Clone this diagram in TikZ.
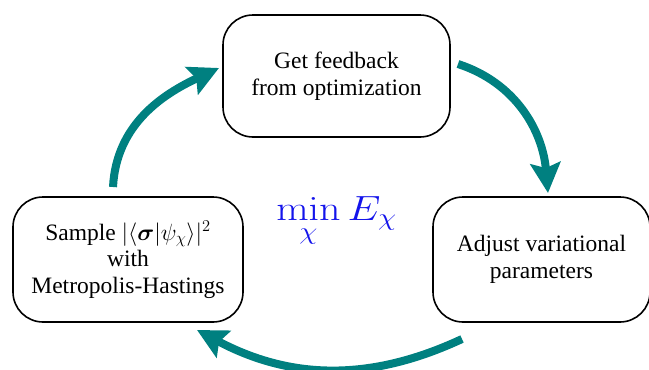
\RequirePackage{fix-cm}
\documentclass[tikz,border=0pt]{standalone}
\usepackage{amsmath}
\usepackage{bm}
\usepackage[no-math]{fontspec}
\setmainfont{Liberation Serif}
\usetikzlibrary{arrows.meta}
\definecolor{loopteal}{RGB}{0,128,128}
\definecolor{formulablue}{RGB}{20,20,235}
\tikzset{
  stagebox/.style={draw=black, line width=1.6pt, rounded corners=30pt, align=center,
    inner sep=0pt, font=\fontsize{23.5}{26.5}\selectfont},
  looparrow/.style={draw=loopteal, line width=8pt,
    -{Stealth[length=30pt,width=30pt,inset=5pt]}}
}
\begin{document}
\begin{tikzpicture}[x=1pt,y=-1pt]
  \useasboundingbox (0,0) rectangle (649,370);
  % the three stages of the loop
  \node[stagebox, minimum width=227pt, minimum height=122pt] (feedback) at (336.5,76)
    {Get feedback\\from optimization};
  \node[stagebox, minimum width=230pt, minimum height=125pt] (sample) at (128,259.5)
    {Sample $|\langle\bm{\sigma}|\psi_\chi\rangle|^2$\\with\\Metropolis-Hastings};
  \node[stagebox, minimum width=217pt, minimum height=125pt] (adjust) at (541.5,259.5)
    {Adjust variational\\parameters};
  % objective in the middle
  \node[text=formulablue, font=\fontsize{35}{42}\selectfont, anchor=base, inner sep=0pt]
    (objective) at (336.5,220)
    {\scalebox{1.2}[1]{$\displaystyle\min_{\lower5pt\hbox{$\scriptstyle\chi$}} E_{\chi}$}};
  % curved arrows between the stages
  \coordinate (a1s) at (113,187);
  \coordinate (a1e) at (219,68);
  \coordinate (a2s) at (458,64);
  \coordinate (a2e) at (548,193);
  \coordinate (a3s) at (462,339);
  \coordinate (a3e) at (197,330);
  \draw[looparrow] (a1s) to[out=87,in=205] (a1e);
  \draw[looparrow] (a2s) to[out=-18,in=95] (a2e);
  \draw[looparrow] (a3s) to[out=205,in=-28] (a3e);
\end{tikzpicture}
\end{document}
